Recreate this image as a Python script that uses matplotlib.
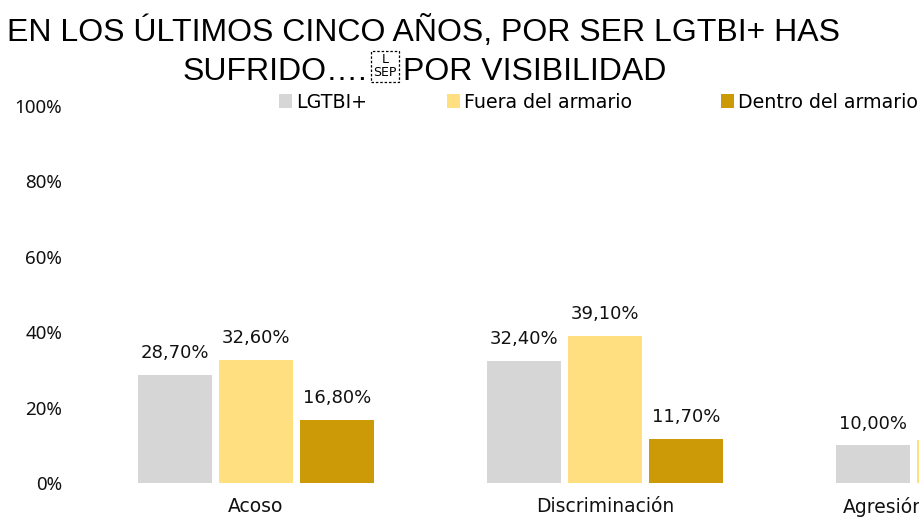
import numpy as np
import matplotlib
matplotlib.use("Agg")
import matplotlib.pyplot as plt
from matplotlib.patches import Patch
from matplotlib.transforms import ScaledTranslation

categories = ["Acoso", "Discriminación", "Agresión"]
series_names = ["LGTBI+", "Fuera del armario", "Dentro del armario"]
lgtbi = [28.70, 32.40, 10.00]
fuera = [32.60, 39.10, 11.30]
dentro = [16.80, 11.70, 5.00]
yticks = [0, 20, 40, 60, 80, 100]
colors = ["#D6D6D6", "#FFDF80", "#CC9A06"]

W, H = 920, 519
fig = plt.figure(figsize=(W / 100, H / 100), dpi=100)
fig.patch.set_facecolor("white")

lab_font = "DejaVu Sans"
ax = fig.add_axes([81.5 / W, 36 / H, 1047 / W, 377 / H])
x = np.arange(len(categories))
step = 0.2335
bw = 0.212
for i, (vals, col) in enumerate(zip([lgtbi, fuera, dentro], colors)):
    xs = x + (i - 1) * step
    ax.bar(xs, [v / 100 for v in vals], width=bw, color=col, linewidth=0)
    for xi, v in zip(xs, vals):
        ax.annotate(f"{v:.2f}%".replace(".", ","), (xi, v / 100), xytext=(0, 12),
                    textcoords="offset points", ha="center", va="baseline",
                    fontsize=13, family=lab_font, color="#111111",
                    annotation_clip=False)

ax.set_xlim(-0.5, 2.5)
ax.set_ylim(0, 1)
ax.set_xticks(x)
ax.set_xticklabels(categories, fontsize=13.5, family=lab_font, color="#111111")
ax.set_yticks([t / 100 for t in yticks])
ax.set_yticklabels([f"{t}%" for t in yticks], fontsize=13.5, family="Noto Sans", color="#111111")
ax.tick_params(axis="x", length=0, pad=10)
ax.tick_params(axis="y", length=0, pad=14)
for s in ax.spines.values():
    s.set_visible(False)

# Title
tfont = "Liberation Sans"
fig.text(424 / W, 1 - 41 / H, "EN LOS ÚLTIMOS CINCO AÑOS, POR SER LGTBI+ HAS",
         ha="center", va="baseline", fontsize=23, family=tfont, color="black")
fig.text(367 / W, 1 - 80 / H, "SUFRIDO….", ha="right", va="baseline",
         fontsize=23, family=tfont, color="black")
fig.text(385 / W, 1 - 66 / H, "L\nSEP", ha="center", va="center", fontsize=9,
         family=lab_font, color="black", linespacing=1.0,
         bbox=dict(boxstyle="square,pad=0.2", fc="white", ec="black", ls=(0, (2, 1.5)), lw=0.9))
fig.text(403 / W, 1 - 80 / H, "POR VISIBILIDAD", ha="left", va="baseline",
         fontsize=23, family=tfont, color="black")

# Legend entries
leg_x = [279, 447, 721]
for name, col, lx in zip(series_names, colors, leg_x):
    fig.legend(handles=[Patch(facecolor=col, edgecolor="none")], labels=[name],
               loc="center left", bbox_to_anchor=(lx / W, 1 - 102 / H),
               frameon=False, handlelength=0.7, handleheight=0.7,
               handletextpad=0.2, borderpad=0, borderaxespad=0,
               prop=dict(family=lab_font, size=13.7))

# Shift last category label inward (as the original chart keeps it inside its area)
fig.canvas.draw()
last = ax.get_xticklabels()[-1]
bb = last.get_window_extent()
dx_px = 843 - bb.x0
last.set_transform(last.get_transform() + ScaledTranslation(dx_px / 100, 0, fig.dpi_scale_trans))

fig.savefig("out.png", dpi=100)
